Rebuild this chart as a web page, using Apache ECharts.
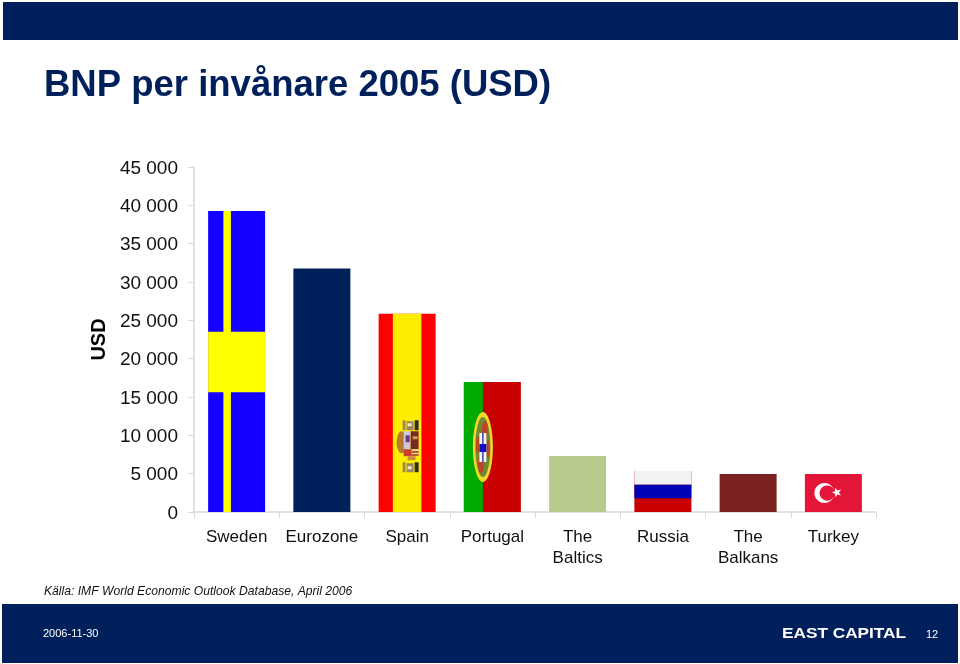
<!DOCTYPE html>
<html>
<head>
<meta charset="utf-8">
<title>BNP per invånare 2005</title>
<script src="https://cdn.jsdelivr.net/npm/echarts@6/dist/echarts.min.js"></script>
<style>
html, body { margin: 0; padding: 0; background: #fff; }
#chart { width: 960px; height: 664px; }
</style>
</head>
<body>
<div id="chart"></div>
<script>
var categories = ['Sweden', 'Eurozone', 'Spain', 'Portugal', 'The\nBaltics', 'Russia', 'The\nBalkans', 'Turkey'];
var gdpValues = [39250, 31750, 25850, 16950, 7300, 5350, 4950, 4950];
var barColors = ['#1400ff', '#00205b', '#ff0000', '#c80000', '#b8c98e', '#c80000', '#7b2320', '#e3163a'];
var yTicks = { min: 0, max: 45000, interval: 5000 };

var NAVY = '#00205b';
var BAR_W = 57;
var FONT = '"Liberation Sans", Arial, sans-serif';

function rect(x, y, w, h, fill) {
  return { type: 'rect', shape: { x: x, y: y, width: w, height: h }, style: { fill: fill }, silent: true };
}
function ellipse(cx, cy, rx, ry, fill) {
  return { type: 'ellipse', shape: { cx: cx, cy: cy, rx: rx, ry: ry }, style: { fill: fill }, silent: true };
}
function star(cx, cy, r, fill) {
  var pts = [];
  for (var i = 0; i < 10; i++) {
    var a = Math.PI + Math.PI * i / 5;
    var rr = i % 2 ? r * 0.42 : r;
    pts.push([cx + rr * Math.cos(a), cy + rr * Math.sin(a)]);
  }
  return { type: 'polygon', shape: { points: pts }, style: { fill: fill }, silent: true };
}

// flag details on top of the plain bars
function flagParts(i, x, y, w, h) {
  switch (i) {
    case 0: // Sweden
      return [
        rect(x + w * 0.268, y, w * 0.132, h, '#ffff00'),
        rect(x, y + h * 0.401, w, h * 0.201, '#ffff00')
      ];
    case 2: // Spain
      var sx = x + w * 0.25, sw = w * 0.5, ey = y + h * 0.537;
      return [
        rect(sx, y, sw, h, '#ffee00'),
        // pillars, top and bottom
        rect(x + 24, ey, 3, 10, '#a08a50'), rect(x + 28, ey + 1, 7, 9, '#9a8468'), rect(x + 36, ey, 4, 10, '#2f2c28'),
        rect(x + 29, ey + 3, 4, 3, '#f4ead0'),
        rect(x + 24, ey + 42, 3, 10, '#a08a50'), rect(x + 28, ey + 43, 7, 9, '#9a8468'), rect(x + 36, ey + 42, 4, 10, '#2f2c28'),
        rect(x + 29, ey + 46, 4, 3, '#f4ead0'),
        // shield
        ellipse(x + 23, ey + 22, 5, 11, '#b9792c'),
        rect(x + 25, ey + 11, 7, 18, '#cfc6d6'),
        rect(x + 32, ey + 11, 8, 18, '#7a2a24'),
        rect(x + 27, ey + 15, 4, 7, '#6a3a80'),
        rect(x + 34, ey + 16, 5, 3, '#d09a50'),
        rect(x + 33, ey + 29, 7, 7, '#f0d890'),
        rect(x + 33, ey + 31, 7, 1.5, '#a83020'),
        rect(x + 33, ey + 34, 7, 1.5, '#a83020'),
        rect(x + 25, ey + 29, 8, 7, '#c84030'),
        rect(x + 29, ey + 36, 8, 4, '#d08a40')
      ];
    case 3: // Portugal
      var cx = x + w / 3, cy = y + h * 0.5;
      return [
        rect(x, y, w / 3, h, '#00aa00'),
        ellipse(cx, cy, 10, 35, '#f0d828'),
        ellipse(cx, cy, 7.5, 30, '#6f8a30'),
        ellipse(cx + 2, cy - 17, 3, 9, '#c04428'),
        ellipse(cx - 2, cy + 17, 3, 9, '#c04428'),
        ellipse(cx + 5, cy + 2, 1.8, 9, '#c04428'),
        ellipse(cx - 5, cy - 2, 1.8, 9, '#c04428'),
        rect(cx - 3.5, cy - 14, 7, 29, '#f4f4f4'),
        rect(cx - 3.5, cy - 3, 7, 8, '#1010c0'),
        rect(cx - 0.8, cy - 14, 1.6, 11, '#4a4aa8'),
        rect(cx - 0.8, cy + 5, 1.6, 10, '#4a4aa8')
      ];
    case 5: // Russia
      return [
        rect(x, y, w, h / 3, '#f2f2f2'),
        rect(x, y + h / 3, w, h / 3, '#0000b4')
      ];
    case 7: // Turkey
      var tx = x + 19.5, ty = y + h / 2;
      return [
        ellipse(tx, ty, 10, 10, '#ffffff'),
        ellipse(tx + 2.8, ty, 7.6, 7.6, '#e3163a'),
        star(x + 32, ty - 0.5, 5, '#ffffff')
      ];
  }
  return [];
}

var chart = echarts.init(document.getElementById('chart'), null, { renderer: 'canvas' });

chart.setOption({
  animation: false,
  backgroundColor: '#ffffff',
  textStyle: { fontFamily: FONT },
  grid: { left: 194, right: 84, top: 167, bottom: 152 },
  xAxis: {
    type: 'category',
    data: categories,
    axisLine: { lineStyle: { color: '#d9d9d9', width: 1.5 } },
    axisTick: { show: true, length: 6, alignWithLabel: false, lineStyle: { color: '#d9d9d9' } },
    axisLabel: { color: '#111', fontSize: 17, margin: 15.5, lineHeight: 20.5, interval: 0, fontFamily: FONT }
  },
  yAxis: {
    type: 'value',
    min: yTicks.min,
    max: yTicks.max,
    interval: yTicks.interval,
    name: 'USD',
    nameLocation: 'middle',
    nameRotate: 90,
    nameGap: 83,
    nameTextStyle: { color: '#000', fontSize: 20, fontWeight: 'bold', fontFamily: FONT },
    axisLine: { show: true, lineStyle: { color: '#d9d9d9', width: 1.5 } },
    axisTick: { show: true, length: 6, lineStyle: { color: '#d9d9d9' } },
    splitLine: { show: false },
    axisLabel: {
      color: '#111', fontSize: 19, margin: 16, fontFamily: FONT, verticalAlign: 'top', lineHeight: 3,
      formatter: function (v) { return String(v).replace(/\B(?=(\d{3})+$)/g, ' '); }
    }
  },
  series: [
    {
      type: 'bar',
      barWidth: BAR_W,
      data: gdpValues.map(function (v, i) {
        return { value: v, itemStyle: { color: barColors[i] } };
      })
    },
    {
      type: 'custom',
      z: 5,
      silent: true,
      data: gdpValues.map(function (v, i) { return [i, v]; }),
      encode: { x: 0, y: 1 },
      renderItem: function (params, api) {
        var i = api.value(0);
        var top = api.coord([i, api.value(1)]);
        var base = api.coord([i, 0]);
        return {
          type: 'group',
          children: flagParts(i, top[0] - BAR_W / 2, top[1], BAR_W, base[1] - top[1])
        };
      }
    }
  ],
  graphic: [
    { type: 'rect', shape: { x: 3, y: 2, width: 955, height: 38 }, style: { fill: NAVY } },
    { type: 'rect', shape: { x: 2, y: 604, width: 956, height: 59 }, style: { fill: NAVY } },
    { type: 'text', x: 44, y: 86, style: { text: 'BNP per invånare 2005 (USD)', fill: NAVY, font: 'bold 36.5px ' + FONT, textVerticalAlign: 'middle' } },
    { type: 'text', x: 44, y: 592, style: { text: 'Källa: IMF World Economic Outlook Database, April 2006', fill: '#111', font: 'italic 12.15px ' + FONT, textVerticalAlign: 'middle' } },
    { type: 'text', x: 43, y: 634, style: { text: '2006-11-30', fill: '#fff', font: '11px ' + FONT, textVerticalAlign: 'middle' } },
    { type: 'text', x: 782, y: 634, scaleX: 1.23, style: { text: 'EAST CAPITAL', fill: '#fff', font: 'bold 14px ' + FONT, textVerticalAlign: 'middle' } },
    { type: 'text', x: 926, y: 634.5, style: { text: '12', fill: '#fff', font: '11px ' + FONT, textVerticalAlign: 'middle' } }
  ]
});
</script>
</body>
</html>
